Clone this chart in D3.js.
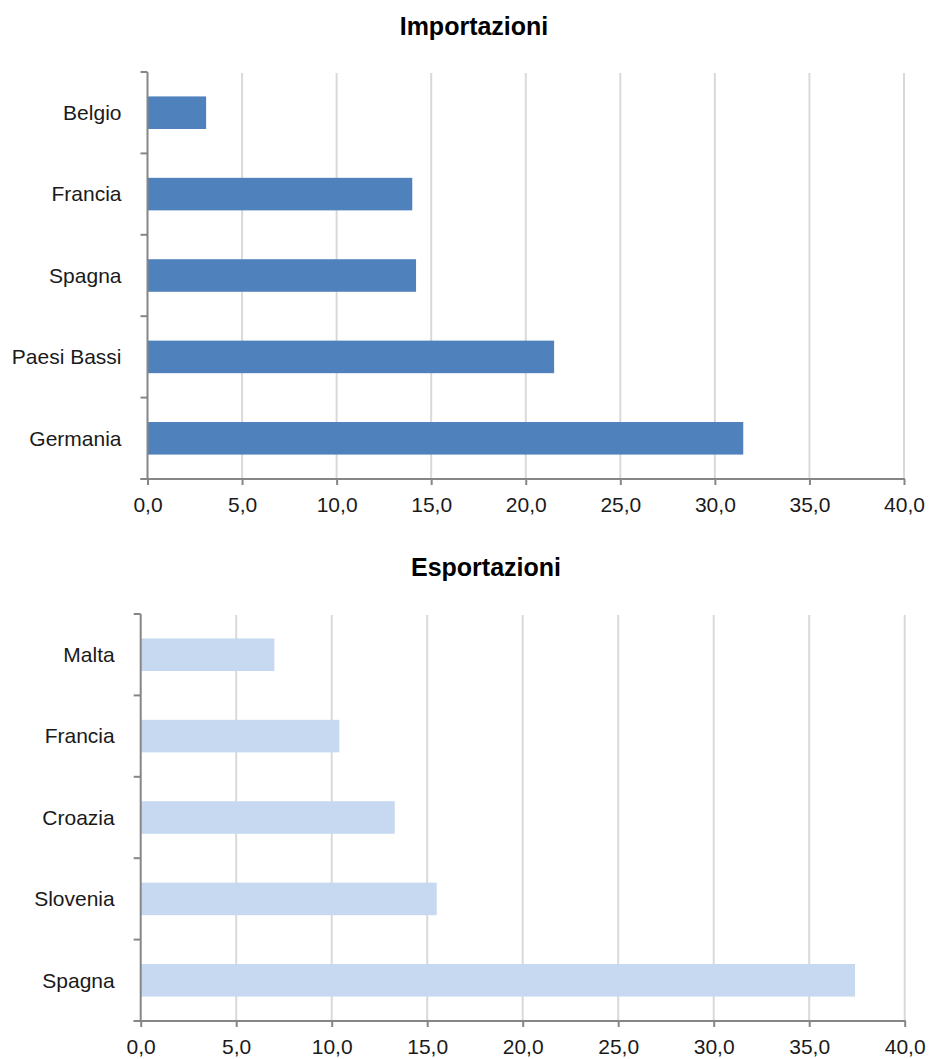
<!DOCTYPE html>
<html>
<head>
<meta charset="utf-8">
<script src="https://cdn.jsdelivr.net/npm/d3@7"></script>
<style>
html,body{margin:0;padding:0;background:#fff;}
svg text{font-family:"Liberation Sans",Arial,sans-serif;}
</style>
</head>
<body>
<svg id="chart" width="930" height="1059"></svg>
<script>
// Data
const importCategories = ["Belgio", "Francia", "Spagna", "Paesi Bassi", "Germania"];
const importValues = [3.1, 14.0, 14.2, 21.5, 31.5];
const exportCategories = ["Malta", "Francia", "Croazia", "Slovenia", "Spagna"];
const exportValues = [7.0, 10.4, 13.3, 15.5, 37.4];
const xTicks = [0, 5, 10, 15, 20, 25, 30, 35, 40];

const svg = d3.select("#chart");
const fmt = d => d.toFixed(1).replace(".", ",");

function drawPanel(cfg) {
  const g = svg.append("g");
  const x = d3.scaleLinear().domain([0, 40]).range([cfg.x0, cfg.x1]);
  const y = d3.scaleBand().domain(cfg.cats).range([cfg.top, cfg.bottom])
    .paddingInner(0.6).paddingOuter(0.3);

  // title
  g.append("text").attr("x", cfg.titleX).attr("y", cfg.titleY)
    .attr("text-anchor", "middle").attr("font-size", 25).attr("font-weight", "bold")
    .attr("fill", "#000").text(cfg.title);

  // gridlines
  g.append("g").selectAll("line").data(xTicks.slice(1)).join("line")
    .attr("x1", d => x(d)).attr("x2", d => x(d))
    .attr("y1", cfg.top + 1).attr("y2", cfg.bottom)
    .attr("stroke", "#d9d9d9").attr("stroke-width", 2);

  // bars
  g.append("g").selectAll("rect").data(cfg.vals).join("rect")
    .attr("x", x(0)).attr("y", (d, i) => y(cfg.cats[i]))
    .attr("width", d => x(d) - x(0)).attr("height", y.bandwidth())
    .attr("fill", cfg.color);

  // x axis
  const xa = g.append("g").attr("transform", `translate(0,${cfg.bottom})`)
    .call(d3.axisBottom(x).tickValues(xTicks).tickFormat(fmt).tickSize(6).tickSizeOuter(0));
  xa.select(".domain").remove();
  xa.selectAll(".tick line").attr("stroke", "#868686").attr("stroke-width", 2);
  xa.selectAll(".tick text").attr("font-size", 21).attr("fill", "#1a1a1a")
    .attr("y", 0).attr("dy", 33).style("font-family", "'Liberation Sans', Arial, sans-serif");

  // y axis ticks at category boundaries
  const step = y.step();
  const bounds = d3.range(cfg.cats.length + 1).map(i => cfg.top + i * step);
  g.append("g").selectAll("line").data(bounds).join("line")
    .attr("x1", x(0) - 7).attr("x2", x(0)).attr("y1", d => d).attr("y2", d => d)
    .attr("stroke", "#868686").attr("stroke-width", 2);

  // axis lines
  g.append("line").attr("x1", x(0)).attr("x2", x(0)).attr("y1", cfg.top).attr("y2", cfg.bottom)
    .attr("stroke", "#868686").attr("stroke-width", 2);
  g.append("line").attr("x1", x(0) - 7).attr("x2", x(40) + 1).attr("y1", cfg.bottom).attr("y2", cfg.bottom)
    .attr("stroke", "#868686").attr("stroke-width", 2);

  // category labels
  g.append("g").selectAll("text").data(cfg.cats).join("text")
    .attr("x", x(0) - 26).attr("y", d => y(d) + y.bandwidth() / 2).attr("dy", "0.35em")
    .attr("text-anchor", "end").attr("font-size", 21).attr("fill", "#1a1a1a").text(d => d);
}

drawPanel({
  cats: importCategories, vals: importValues, color: "#4f81bd",
  x0: 147.5, x1: 904, top: 72, bottom: 479,
  title: "Importazioni", titleX: 474, titleY: 35
});
drawPanel({
  cats: exportCategories, vals: exportValues, color: "#c6d9f1",
  x0: 140.7, x1: 904.7, top: 614, bottom: 1021,
  title: "Esportazioni", titleX: 486, titleY: 576
});
</script>
</body>
</html>
